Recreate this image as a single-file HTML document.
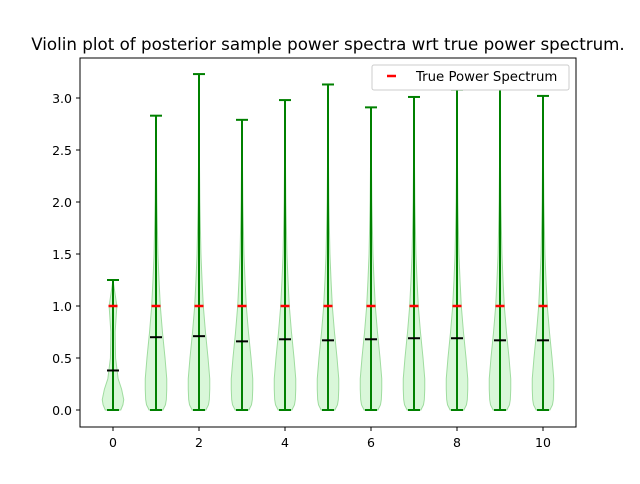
<!DOCTYPE html>
<html><head><meta charset="utf-8"><style>
body{margin:0;background:#fff;font-family:"DejaVu Sans","Liberation Sans",sans-serif}
</style></head><body>
<svg id="c" width="640" height="480" xmlns="http://www.w3.org/2000/svg" font-family="DejaVu Sans, Liberation Sans, sans-serif">
<rect width="640" height="480" fill="#fff"/>
<text x="328" y="50" font-size="16.7" text-anchor="middle">Violin plot of posterior sample power spectra wrt true power spectrum.</text>
<g id="plot"></g>
<rect x="80" y="58" width="496" height="369" fill="none" stroke="#000" stroke-width="1"/>
<g>
<rect x="372" y="65" width="197" height="25" rx="2" fill="#fff" stroke="#ccc"/>
<line x1="387" y1="76" x2="396" y2="76" stroke="red" stroke-width="2.5"/>
<text x="416" y="81" font-size="13.3">True Power Spectrum</text>
</g>
</svg>
<script>
const positions=[0,1,2,3,4,5,6,7,8,9,10];
const medians=[0.38,0.70,0.71,0.66,0.68,0.67,0.68,0.69,0.69,0.67,0.67];
const maxima=[1.25,2.83,3.23,2.79,2.98,3.13,2.91,3.01,3.08,3.10,3.02];
const minima=[0,0,0,0,0,0,0,0,0,0,0];
const trueValues=[1,1,1,1,1,1,1,1,1,1,1];
const densLevels=[0,0.05,0.1,0.2,0.3,0.5,0.75,1.0,1.25,1.5,2.0,2.5,3.0];
const densFirst=[0.18,0.23,0.25,0.2,0.12,0.06,0.05,0.09,0.03,0,0,0,0];
const densOther=[0.16,0.22,0.24,0.25,0.25,0.21,0.15,0.1,0.07,0.045,0.02,0.008,0.003];
const xTicks=[0,2,4,6,8,10];
const yTicks=[0,0.5,1.0,1.5,2.0,2.5,3.0];
const X=v=>113+v*43, Y=v=>410-v*104, S=v=>v*43;
const g=document.getElementById('plot');
const NS='http://www.w3.org/2000/svg';
function mk(t,a){const e=document.createElementNS(NS,t);for(const k in a)e.setAttribute(k,a[k]);g.appendChild(e);return e;}
positions.forEach((p,i)=>{
 const d=i===0?densFirst:densOther;
 const pts=[];
 const lv=[];for(let j=0;j<densLevels.length;j++){if(densLevels[j]<maxima[i])lv.push([densLevels[j],d[j]]);}
 lv.push([maxima[i],0]);
 lv.forEach(([y,w])=>pts.push([X(p)+S(w),Y(y)]));
 for(let j=lv.length-1;j>=0;j--)pts.push([X(p)-S(lv[j][1]),Y(lv[j][0])]);
 const poly=mk('polygon',{points:pts.map(q=>q.join(',')).join(' '),fill:'#d9f7d9',stroke:'#9fdc9f','stroke-width':1});
 
 
 const l=mk('line',{x1:X(p),x2:X(p),y1:Y(minima[i]),y2:Y(maxima[i]),stroke:'green','stroke-width':2});
 
 
 [minima[i],maxima[i]].forEach((v,k)=>{const c=mk('line',{x1:X(p)-6,x2:X(p)+6,y1:Y(v),y2:Y(v),stroke:'green','stroke-width':2});
  
  });
 const t=mk('line',{x1:X(p)-4.5,x2:X(p)+4.5,y1:Y(trueValues[i]),y2:Y(trueValues[i]),stroke:'red','stroke-width':2.5});
 
 
 const m=mk('line',{x1:X(p)-6,x2:X(p)+6,y1:Y(medians[i]),y2:Y(medians[i]),stroke:'#000','stroke-width':2});
 
 
});
xTicks.forEach(v=>{
 const l=mk('line',{x1:X(v),x2:X(v),y1:427,y2:431,stroke:'#000'});
 
 
 const t=mk('text',{x:X(v),y:447,'font-size':12.5,'text-anchor':'middle'});t.textContent=v;
 
 
});
yTicks.forEach(v=>{
 const l=mk('line',{x1:76,x2:80,y1:Y(v),y2:Y(v),stroke:'#000'});
 
 
 const t=mk('text',{x:72,y:Y(v)+5,'font-size':12.5,'text-anchor':'end'});t.textContent=v.toFixed(1);
 
 
});
</script>
</body></html>
